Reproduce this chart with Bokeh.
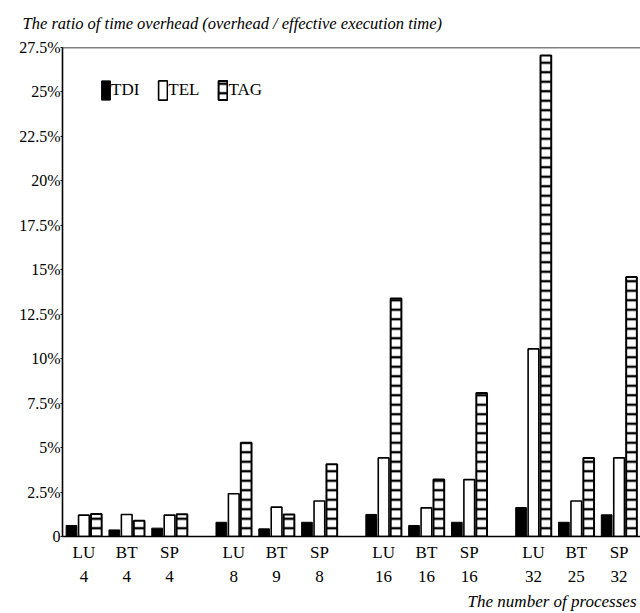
from bokeh.plotting import figure
from bokeh.models import (ColumnDataSource, FactorRange, Range1d, FixedTicker,
                          CustomJSTickFormatter, Legend, LegendItem, Span, Title)
from bokeh.transform import dodge
from bokeh.embed import file_html
from bokeh.resources import INLINE

# ---- data ----
groups = ["p4", "p4", "p4", "p8", "p8", "p8", "p16", "p16", "p16", "p32", "p32", "p32"]
benchmarks = ["LU", "BT", "SP", "LU", "BT", "SP", "LU", "BT", "SP", "LU", "BT", "SP"]
procs = ["4", "4", "4", "8", "9", "8", "16", "16", "16", "32", "25", "32"]
series = ["TDI", "TEL", "TAG"]
tdi = [0.62, 0.37, 0.47, 0.80, 0.43, 0.80, 1.24, 0.62, 0.80, 1.63, 0.80, 1.22]
tel = [1.20, 1.24, 1.20, 2.40, 1.65, 2.00, 4.42, 1.61, 3.20, 10.55, 2.00, 4.42]
tag = [1.27, 0.88, 1.25, 5.27, 1.24, 4.07, 13.38, 3.20, 8.07, 27.05, 4.42, 14.60]
y_ticks = [0, 2.5, 5, 7.5, 10, 12.5, 15, 17.5, 20, 22.5, 25, 27.5]
title_text = "The ratio of time overhead (overhead / effective execution time)"
xlabel_text = "The number of processes"

FONT = "Liberation Serif"

xfactors = [(g, f"{b}\n{n}") for g, b, n in zip(groups, benchmarks, procs)]
src = ColumnDataSource(dict(x=xfactors, TDI=tdi, TEL=tel, TAG=tag))

xr = FactorRange(factors=xfactors, group_padding=0.5, range_padding=0)
p = figure(x_range=xr, y_range=Range1d(0, 27.5),
           frame_width=578, frame_height=489,
           min_border_left=62, min_border_right=0, min_border_top=47, min_border_bottom=77,
           output_backend="svg", toolbar_location=None, outline_line_color=None)
p.xgrid.visible = False
p.ygrid.visible = False

w = 0.25
off = 0.29
r_tdi = p.vbar(x=dodge("x", -off, range=p.x_range), top="TDI", width=w, source=src,
               fill_color="black", line_color="black", line_width=1)
r_tel = p.vbar(x=dodge("x", 0, range=p.x_range), top="TEL", width=w, source=src,
               fill_color="white", line_color="black", line_width=1.6)
r_tag = p.vbar(x=dodge("x", off, range=p.x_range), top="TAG", width=w, source=src,
               fill_color="white", line_color="black", line_width=2,
               hatch_pattern="horizontal_line", hatch_color="black",
               hatch_scale=9.5, hatch_weight=2.4)

# axes
yax = p.yaxis[0]
yax.ticker = FixedTicker(ticks=y_ticks)
yax.formatter = CustomJSTickFormatter(code="return tick == 0 ? '0' : tick + '%';")
yax.minor_tick_line_color = None
yax.major_tick_out = 2
yax.major_tick_in = 0
yax.major_label_standoff = 0
yax.axis_line_width = 1.6
yax.major_label_text_font = FONT
yax.major_label_text_font_size = "16px"
yax.major_label_text_color = "black"

xax = p.xaxis[0]
xax.major_tick_line_color = None
xax.minor_tick_line_color = None
xax.axis_line_width = 1.6
xax.major_label_text_font = FONT
xax.major_label_text_font_size = "17px"
xax.major_label_text_color = "black"
xax.major_label_text_line_height = 1.3
xax.major_label_standoff = 0
xax.group_text_font_size = "0px"
xax.group_text_color = None
xax.separator_line_color = None

p.add_layout(Span(location=27.5, dimension="width", line_color="black", line_width=1.6))

legend = Legend(items=[LegendItem(label=series[0], renderers=[r_tdi]),
                       LegendItem(label=series[1], renderers=[r_tel]),
                       LegendItem(label=series[2], renderers=[r_tag])],
                orientation="horizontal", location=(38, 434),
                glyph_width=11, glyph_height=24, label_standoff=0, spacing=18,
                padding=0, margin=0, border_line_color=None, background_fill_alpha=0,
                label_text_font=FONT, label_text_font_size="17px", label_height=24,
                label_text_color="black")
p.add_layout(legend)

p.add_layout(Title(text=title_text, align="left", offset=-40, standoff=26,
                   vertical_align="top",
                   text_font=FONT, text_font_style="italic", text_font_size="16.5px",
                   text_color="black"), "above")
p.add_layout(Title(text=xlabel_text, align="right", offset=4, standoff=0,
                   text_font=FONT, text_font_style="italic", text_font_size="17px",
                   text_color="black"), "below")

open("out.html", "w").write(file_html(p, INLINE))
